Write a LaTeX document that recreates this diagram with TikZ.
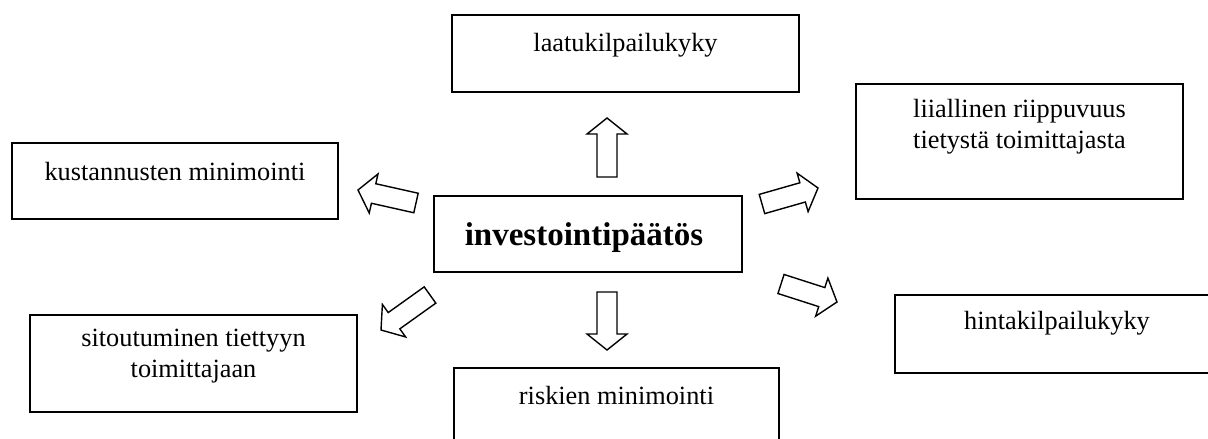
\documentclass[tikz,border=0pt]{standalone}
\usepackage{fontspec}
\setmainfont{Liberation Serif}
\usetikzlibrary{calc}

\tikzset{
  box/.style={draw, line width=1.6pt, rectangle, inner sep=0pt},
  mainbox/.style={draw, line width=2.4pt, rectangle, inner sep=0pt},
  boxtext/.style={inner sep=0pt, align=center, font=\fontsize{26.3}{31}\selectfont},
  maintext/.style={inner sep=0pt, font=\fontsize{33}{38}\selectfont\bfseries},
  arrowline/.style={draw, fill=white, line width=1.4pt, line join=miter},
}

% hollow block arrow from #1 (middle of the tail) to #2 (tip)
\newcommand{\blockarrow}[2]{%
  \coordinate (ba-base) at ($(#2)!16pt!(#1)$);
  \draw[arrowline]
    ($(#1)!10pt!90:(#2)$) -- ($(ba-base)!10pt!90:(#2)$) --
    ($(ba-base)!20pt!90:(#2)$) -- (#2) --
    ($(ba-base)!20pt!-90:(#2)$) -- ($(ba-base)!10pt!-90:(#2)$) --
    ($(#1)!10pt!-90:(#2)$) -- cycle;}

\begin{document}
\begin{tikzpicture}[x=1pt, y=-1pt]
  \clip (0,0) rectangle (1208,439);
  \fill[white] (0,0) rectangle (1208,439);

  % boxes
  \node[box, minimum width=347pt, minimum height=77pt] (laatu) at (625.5,53.5) {};
  \node[box, minimum width=326pt, minimum height=76pt] (kust) at (175,181) {};
  \node[box, minimum width=327pt, minimum height=115pt] (riipp) at (1019.5,141.5) {};
  \node[mainbox, minimum width=308pt, minimum height=76pt] (inv) at (588,234) {};
  \node[box, minimum width=327pt, minimum height=97pt] (sitou) at (193.5,363.5) {};
  \node[box, minimum width=325pt, minimum height=82pt] (riski) at (616.5,409) {};
  \node[box, minimum width=324pt, minimum height=78pt] (hinta) at (1057,334) {};

  % texts
  \node[boxtext, anchor=base] (laatu-t) at ([yshift=-37pt]laatu.north) {laatukilpailukyky};
  \node[boxtext, anchor=base] (kust-t) at ([yshift=-38pt]kust.north) {kustannusten minimointi};
  \node[boxtext, anchor=north] (riipp-t) at ([yshift=-16pt]riipp.north) {liiallinen riippuvuus\\tietystä toimittajasta};
  \node[maintext, anchor=base] (inv-t) at ([xshift=-4pt, yshift=-51pt]inv.north) {investointipäätös};
  \node[boxtext, anchor=north] (sitou-t) at ([yshift=-15pt]sitou.north) {sitoutuminen tiettyyn\\toimittajaan};
  \node[boxtext, anchor=base] (riski-t) at ([yshift=-37pt]riski.north) {riskien minimointi};
  \node[boxtext, anchor=base] (hinta-t) at ([yshift=-35pt]hinta.north) {hintakilpailukyky};

  % arrow ends
  \coordinate (up-s) at (607,177);  \coordinate (up-e) at (607,118);
  \coordinate (dn-s) at (607,292);  \coordinate (dn-e) at (607,350);
  \coordinate (lu-s) at (416,203);  \coordinate (lu-e) at (358,190);
  \coordinate (ru-s) at (762,204);  \coordinate (ru-e) at (818,188);
  \coordinate (ld-s) at (430,295);  \coordinate (ld-e) at (381,330);
  \coordinate (rd-s) at (781,284);  \coordinate (rd-e) at (837,302);

  \blockarrow{up-s}{up-e}
  \blockarrow{dn-s}{dn-e}
  \blockarrow{lu-s}{lu-e}
  \blockarrow{ru-s}{ru-e}
  \blockarrow{ld-s}{ld-e}
  \blockarrow{rd-s}{rd-e}
\end{tikzpicture}
\end{document}
